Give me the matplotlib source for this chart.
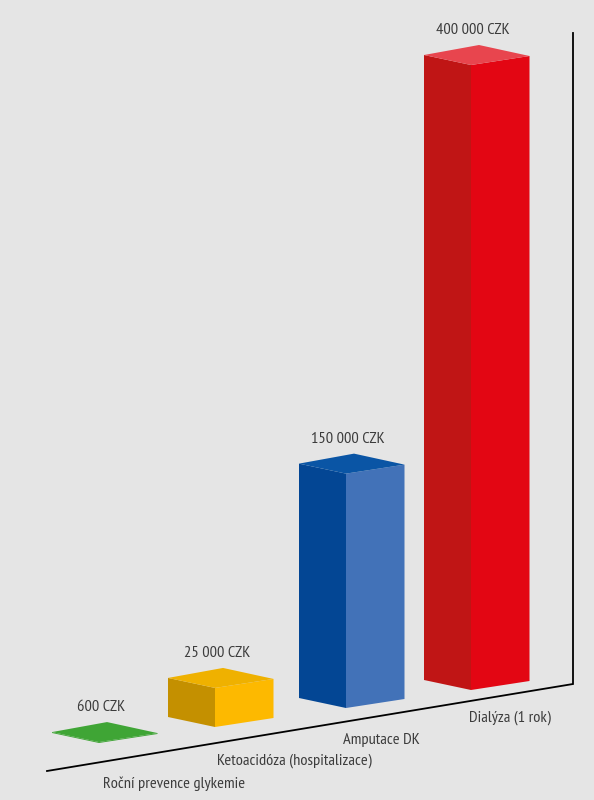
#!/usr/bin/env python

import matplotlib
matplotlib.use('Agg')
import matplotlib.pyplot as plt
from matplotlib.patches import Polygon

categories = ['Roční prevence glykemie', 'Ketoacidóza (hospitalizace)', 'Amputace DK', 'Dialýza (1 rok)']
values = [600, 25000, 150000, 400000]

# layout, in pixels of the 594x800 picture
front_x = [99, 215, 346, 471]
base_px = [743, 727, 708, 690]
cat_x = [103, 217, 343, 469]
cat_y = [784, 761, 740, 718]

# colours: left side, right side, top
left_cols = ['#3fa535', '#c49000', '#034694', '#c01515']
right_cols = ['#3fa535', '#fdb900', '#4272b8', '#e30613']
top_cols = ['#3fa535', '#efb100', '#0a55a5', '#e8454e']

CZK_PER_PX = 640
TEXT_COL = '#3c3c3c'
plt.rcParams['font.family'] = ['PT Sans Narrow', 'Fira Sans Condensed', 'Liberation Sans', 'DejaVu Sans']


def y_of(px):
    # picture row -> value axis
    return (800 - px) * CZK_PER_PX


fig = plt.figure(figsize=(5.94, 8), dpi=100, facecolor='#e5e5e5')
ax = fig.add_axes([0, 0, 1, 1])
ax.set_xlim(0, 594)
ax.set_ylim(y_of(800), y_of(0))
ax.axis('off')

# floor and back line
ax.plot([47, 573, 573], [y_of(771), y_of(684), y_of(33)], color='black', lw=1.3, solid_joinstyle='miter')

for i, val in enumerate(values):
    fx = front_x[i]
    b = y_of(base_px[i])
    t = b + val
    lx, ly = fx - 47, 10 * CZK_PER_PX
    rx, ry = fx + 58.5, 9 * CZK_PER_PX
    bx, by = fx + 8, 20 * CZK_PER_PX

    ax.add_patch(Polygon([(lx, b + ly), (fx, b), (fx, t), (lx, t + ly)], fc=left_cols[i], ec='none'))
    ax.add_patch(Polygon([(fx, b), (rx, b + ry), (rx, t + ry), (fx, t)], fc=right_cols[i], ec='none'))
    ax.add_patch(Polygon([(lx, t + ly), (fx, t), (rx, t + ry), (bx, t + by)], fc=top_cols[i], ec='none'))

    label = f'{val:,}'.replace(',', ' ') + ' CZK'
    ax.text(bx - 6, t + by + 15 * CZK_PER_PX, label, ha='center', va='center', fontsize=11.8, color=TEXT_COL)
    ax.text(cat_x[i], y_of(cat_y[i]), categories[i], ha='left', va='center', fontsize=11.8, color=TEXT_COL)

fig.savefig('out.png', dpi=100, facecolor=fig.get_facecolor())
